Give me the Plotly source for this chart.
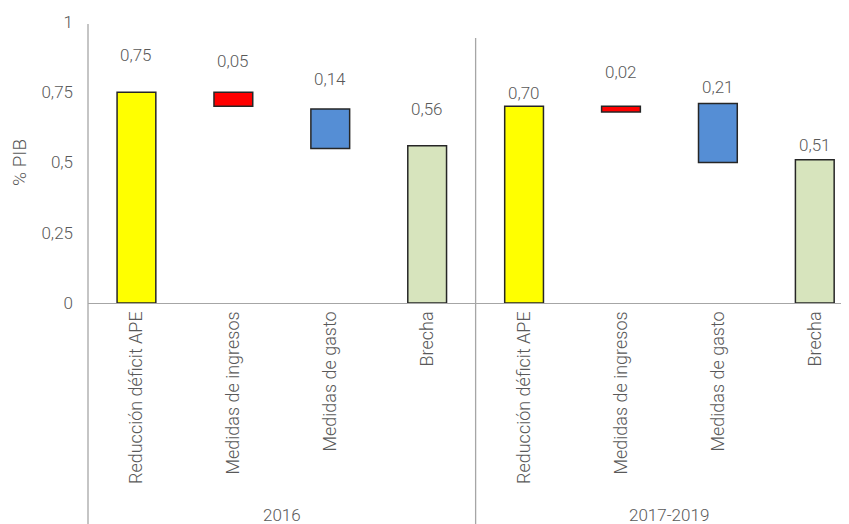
import plotly.graph_objects as go

# ---- data ----
groups = ["2016", "2017-2019"]
categories = ["Reducción déficit APE", "Medidas de ingresos", "Medidas de gasto", "Brecha"]
values_2016 = [0.75, 0.05, 0.14, 0.56]
bases_2016 = [0.0, 0.70, 0.55, 0.0]
values_2017 = [0.70, 0.02, 0.21, 0.51]
bases_2017 = [0.0, 0.68, 0.50, 0.0]
y_ticks = [0, 0.25, 0.5, 0.75, 1]

# ---- style ----
colors = ["#FFFF00", "#FF0000", "#558ED5", "#D7E4BD"]
label_shift_2016 = [37, 31, 30, 37]
label_shift_2017 = [13, 34, 16, 15]
FONT = "Roboto"
TXT = "#595959"
AX = "#A6A6A6"

values = [values_2016, values_2017]
bases = [bases_2016, bases_2017]
shifts = [label_shift_2016, label_shift_2017]
n = len(categories)

fig = go.Figure()
for ci, cat in enumerate(categories):
    xs = [gi * n + ci for gi in range(len(groups))]
    fig.add_trace(go.Bar(
        x=xs,
        y=[values[gi][ci] for gi in range(len(groups))],
        base=[bases[gi][ci] for gi in range(len(groups))],
        width=0.40,
        marker=dict(color=colors[ci], line=dict(color="#262626", width=1.5)),
        showlegend=False,
        hoverinfo="skip",
    ))

annotations = []
for gi in range(len(groups)):
    for ci in range(n):
        v = values[gi][ci]
        top = bases[gi][ci] + v
        annotations.append(dict(
            x=gi * n + ci, y=top, xref="x", yref="y",
            text=f"{v:.2f}".replace(".", ","),
            showarrow=False, yanchor="middle", yshift=shifts[gi][ci],
            font=dict(family=FONT, size=17, color=TXT, weight=300),
        ))
    annotations.append(dict(
        x=gi * n + (n - 1) / 2, y=-0.754, xref="x", yref="paper",
        text=groups[gi], showarrow=False, yanchor="middle",
        font=dict(family=FONT, size=17, color=TXT, weight=300),
    ))

shapes = [
    dict(type="line", xref="paper", yref="paper", x0=0, x1=0, y0=-0.79, y1=0.993,
         line=dict(color=AX, width=1.3)),
    dict(type="line", xref="x", yref="paper", x0=n - 0.5, x1=n - 0.5, y0=-0.79, y1=0.943,
         line=dict(color=AX, width=1.3)),
]

tickvals = list(range(n * len(groups)))
ticktext = categories * len(groups)

fig.update_layout(
    width=841, height=516,
    margin=dict(l=80, r=0, t=14, b=221),
    paper_bgcolor="white", plot_bgcolor="white",
    separators=", ",
    barmode="overlay",
    annotations=annotations,
    shapes=shapes,
    font=dict(family=FONT, color=TXT, size=16, weight=300),
    xaxis=dict(
        range=[-0.5, 7.353],
        tickvals=tickvals, ticktext=ticktext, tickangle=-90,
        showline=True, linecolor=AX, linewidth=1.3,
        showgrid=False, zeroline=False, ticks="",
        tickfont=dict(family=FONT, size=18, color=TXT, weight=300),
        fixedrange=True,
    ),
    yaxis=dict(
        range=[0, 1],
        tickvals=y_ticks,
        ticktext=[f"{t:g}".replace(".", ",") for t in y_ticks],
        showgrid=False, zeroline=False, showline=False, ticks="",
        ticklabelstandoff=14,
        tickfont=dict(family=FONT, size=17, color=TXT, weight=300),
        title=dict(text="% PIB", font=dict(family=FONT, size=19, color=TXT, weight=300), standoff=12),
        fixedrange=True,
    ),
)

fig.write_html("out.html")
